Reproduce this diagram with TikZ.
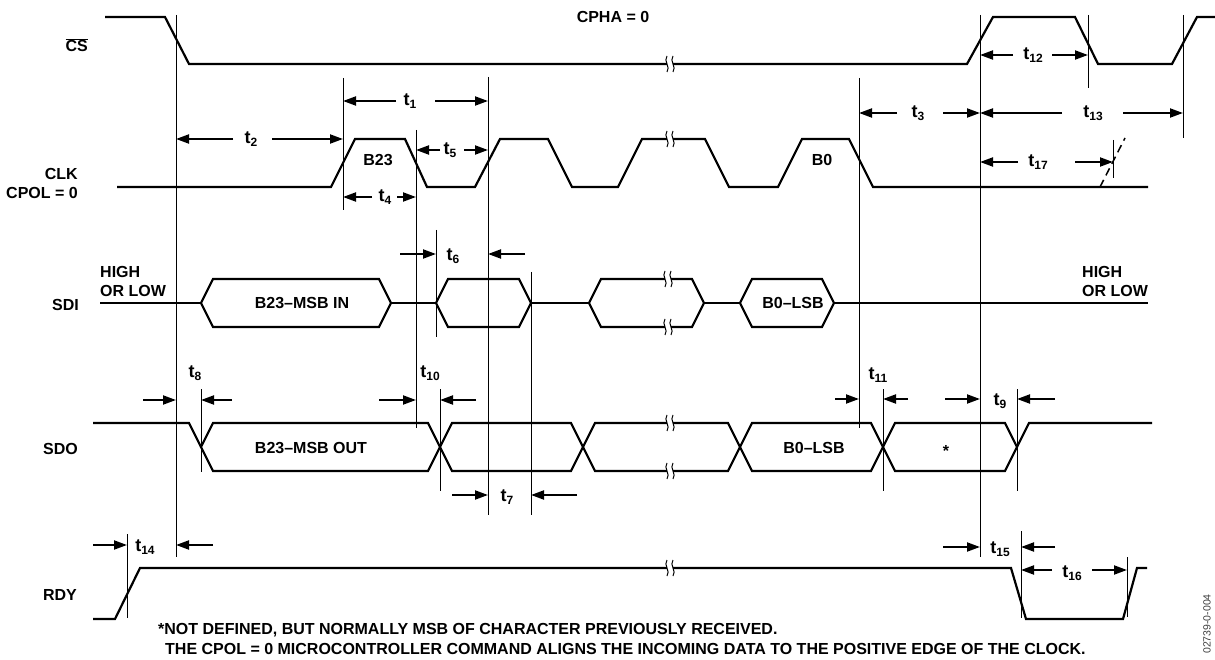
\documentclass[tikz,border=0pt]{standalone}
\usepackage{fontspec}
\setmainfont{Liberation Sans}
\usetikzlibrary{arrows.meta}

\newcommand{\tlab}[1]{{\fontsize{18}{18}\selectfont t}\raisebox{-3pt}{\fontsize{12}{12}\selectfont #1}}

\begin{document}
\begin{tikzpicture}[x=1pt, y=-1pt,
    sig/.style={line width=2.2pt},
    ref/.style={line width=1pt},
    dim/.style={-{Triangle[length=13pt,width=9pt]}, line width=2pt},
    lbl/.style={font=\bfseries\fontsize{16}{19}\selectfont, inner sep=0pt},
    brk/.pic={\fill[white] (-3,-9) rectangle (3,9);
      \foreach \s in {-3,3} \draw[line width=1pt] (\s,-8) .. controls (\s-4,-3) and (\s+4,3) .. (\s,8);}]
    \useasboundingbox (0,0) rectangle (1215,660);
    \fill[white] (0,0) rectangle (1215,660);

    % CS, CLK, SDI, SDO, RDY
    \draw[sig] (105,17) -- (165,17) -- (189,64) -- (967,64) -- (993,17) -- (1075,17) -- (1098,64) -- (1172,64) -- (1197,17) -- (1215,17);
    \draw[sig] (117,187) -- (331,187) -- (355,139) -- (405,139) -- (427,187) -- (475,187) -- (500,139) -- (548,139) -- (572,187)
      -- (618,187) -- (642,139) -- (705,139) -- (729,187) -- (778,187) -- (802,139) -- (849,139) -- (873,187) -- (1148,187);
    \draw[line width=1.5pt, dash pattern=on 8pt off 5pt] (1100,187) -- (1125,138);
    \draw[sig] (100,303) -- (201,303) (391,303) -- (436,303) (531,303) -- (589,303) (704,303) -- (740,303) (834,303) -- (1148,303);
    \foreach \a/\b in {201/391, 436/531, 589/704, 740/834}
      \draw[sig] (\a,303) -- (\a+12,279) -- (\b-12,279) -- (\b,303) -- (\b-12,327) -- (\a+12,327) -- cycle;
    \draw[sig] (93,423) -- (189,423) -- (201,447);
    \foreach \a/\b in {201/440, 440/583, 583/740, 740/883, 883/1017}
      \draw[sig] (\a,447) -- (\a+12,423) -- (\b-12,423) -- (\b,447) -- (\b-12,471) -- (\a+12,471) -- cycle;
    \draw[sig] (1017,447) -- (1029,423) -- (1152,423);
    \draw[sig] (93,619) -- (115,619) -- (140,568) -- (1011,568) -- (1026,619) -- (1123,619) -- (1137,568) -- (1147,568);
    \foreach \p in {(670,64), (670,139), (668,279), (668,327), (670,423), (670,471), (670,568)}
      \pic at \p {brk};

    \foreach \n/\x/\a/\b in {cs1/176/15/557, ck1/343/78/210, ck2/416/130/428, ck3/488/77/515, ck4/859/78/428,
        cs2/980/15/557, cs3/1088/15/88, cs4/1183/15/138, ck5/1113/140/178, di1/436/230/337, di2/531/272/515,
        do1/201/389/472, do2/440/389/491, do3/883/389/491, do4/1017/389/491, rd1/127/534/618, rd2/1021/531/618, rd3/1127/557/617}
      \draw[ref] (\x,\a) coordinate (\n) -- (\x,\b);

    \node[lbl, anchor=east] (ncs) at (88,45) {$\overline{\mbox{CS}}$};
    \node[lbl, anchor=east, align=right] (nclk) at (78,183) {CLK\\CPOL = 0};
    \node[lbl, anchor=east] (nsdi) at (79,305) {SDI};
    \node[lbl, anchor=east] (nsdo) at (78,449) {SDO};
    \node[lbl, anchor=east] (nrdy) at (77,595) {RDY};
    \node[lbl] (cpha) at (613,17) {CPHA = 0};
    \node[lbl] (b23) at (378,160) {B23};
    \node[lbl] (b0) at (822,160) {B0};
    \node[lbl, anchor=west, align=left] (hl1) at (100,281) {HIGH\\OR LOW};
    \node[lbl, anchor=west, align=left] (hl2) at (1082,281) {HIGH\\OR LOW};
    \node[lbl] (din) at (302,303) {B23--MSB IN};
    \node[lbl] (dlsb) at (793,303) {B0--LSB};
    \node[lbl] (dout) at (311,448) {B23--MSB OUT};
    \node[lbl] (olsb) at (814,448) {B0--LSB};
    \node[lbl] (ostar) at (946,451) {*};

    \node[lbl] (t1) at (410,101) {\tlab{1}};
    \draw[dim] (396,101) -- (ck1 |- 0,101);
    \draw[dim] (435,101) -- (ck3 |- 0,101);
    \node[lbl] (t2) at (251,139) {\tlab{2}};
    \draw[dim] (233,139) -- (cs1 |- 0,139);
    \draw[dim] (272,139) -- (ck1 |- 0,139);
    \node[lbl] (t4) at (385,197) {\tlab{4}};
    \draw[dim] (372,197) -- (ck1 |- 0,197);
    \draw[dim] (397,197) -- (ck2 |- 0,197);
    \node[lbl] (t5) at (450,150) {\tlab{5}};
    \draw[dim] (440,150) -- (ck2 |- 0,150);
    \draw[dim] (464,150) -- (ck3 |- 0,150);
    \node[lbl] (t3) at (918,113) {\tlab{3}};
    \draw[dim] (897,113) -- (ck4 |- 0,113);
    \draw[dim] (943,113) -- (cs2 |- 0,113);
    \node[lbl] (t13) at (1093,113) {\tlab{13}};
    \draw[dim] (1062,113) -- (cs2 |- 0,113);
    \draw[dim] (1123,113) -- (cs4 |- 0,113);
    \node[lbl] (t12) at (1033,55) {\tlab{12}};
    \draw[dim] (1013,55) -- (cs2 |- 0,55);
    \draw[dim] (1052,55) -- (cs3 |- 0,55);
    \node[lbl] (t17) at (1038,162) {\tlab{17}};
    \draw[dim] (1018,162) -- (cs2 |- 0,162);
    \draw[dim] (1075,162) -- (ck5 |- 0,162);

    \node[lbl] (t6) at (453,256) {\tlab{6}};
    \draw[dim] (400,254) -- (di1 |- 0,254);
    \draw[dim] (525,254) -- (ck3 |- 0,254);
    \node[lbl] (t8) at (195,373) {\tlab{8}};
    \draw[dim] (143,400) -- (cs1 |- 0,400);
    \draw[dim] (232,400) -- (do1 |- 0,400);
    \node[lbl] (t10) at (430,373) {\tlab{10}};
    \draw[dim] (379,400) -- (ck2 |- 0,400);
    \draw[dim] (476,400) -- (do2 |- 0,400);
    \node[lbl] (t11) at (878,375) {\tlab{11}};
    \draw[dim] (835,399) -- (ck4 |- 0,399);
    \draw[dim] (908,399) -- (do3 |- 0,399);
    \node[lbl] (t9) at (1000,401) {\tlab{9}};
    \draw[dim] (945,399) -- (cs2 |- 0,399);
    \draw[dim] (1055,399) -- (do4 |- 0,399);
    \node[lbl] (t7) at (507,497) {\tlab{7}};
    \draw[dim] (452,495) -- (ck3 |- 0,495);
    \draw[dim] (577,495) -- (di2 |- 0,495);

    \node[lbl] (t14) at (145,547) {\tlab{14}};
    \draw[dim] (93,545) -- (rd1 |- 0,545);
    \draw[dim] (213,545) -- (cs1 |- 0,545);
    \node[lbl] (t15) at (1000,549) {\tlab{15}};
    \draw[dim] (943,547) -- (cs2 |- 0,547);
    \draw[dim] (1055,547) -- (rd2 |- 0,547);
    \node[lbl] (t16) at (1072,573) {\tlab{16}};
    \draw[dim] (1052,570) -- (rd2 |- 0,570);
    \draw[dim] (1092,570) -- (rd3 |- 0,570);

    \node[lbl, anchor=west] (note1) at (158,630) {*NOT DEFINED, BUT NORMALLY MSB OF CHARACTER PREVIOUSLY RECEIVED.};
    \node[lbl, anchor=west] (note2) at (165,649) {THE CPOL = 0 MICROCONTROLLER COMMAND ALIGNS THE INCOMING DATA TO THE POSITIVE EDGE OF THE CLOCK.};
    \node[font=\fontsize{10.5}{10.5}\selectfont, text=black!75, rotate=90] (figid) at (1207,624) {02739-0-004};
\end{tikzpicture}
\end{document}
